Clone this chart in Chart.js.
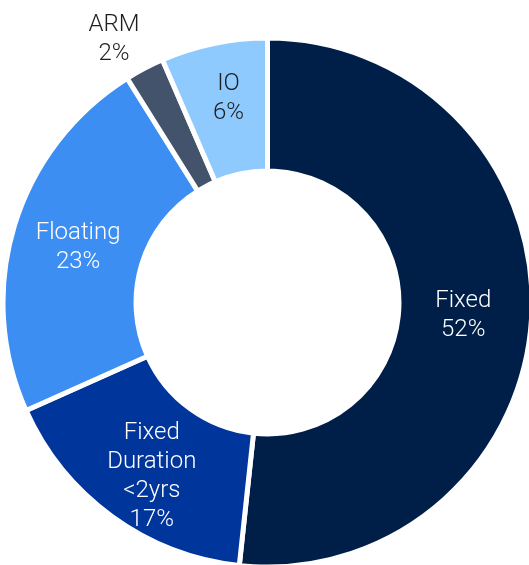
<!DOCTYPE html>
<html>
<head>
<meta charset="utf-8">
<script src="https://cdn.jsdelivr.net/npm/chart.js@4"></script>
<style>
  html, body { margin: 0; padding: 0; background: #fff; }
  #wrap { width: 529px; height: 565px; }
</style>
</head>
<body>
<div id="wrap"><canvas id="mix-chart"></canvas></div>
<script>
var categories = [["Fixed"], ["Fixed", "Duration", "<2yrs"], ["Floating"], ["ARM"], ["IO"]];
var shares = [51.7, 16.6, 22.8, 2.4, 6.5];   // slice sizes as measured
var shareLabels = [52, 17, 23, 2, 6];        // printed percentages
var sliceColors = ["#001f48", "#00359c", "#3d8ef2", "#43536b", "#8fcaff"];
var textColors = ["#ffffff", "#ffffff", "#ffffff", "#1e1e1e", "#1e1e1e"];

// small nudges so the labels sit where the original put them
var labelRadiusShift = [-2, 9, 0, 109, 12];
var labelAngleShift = [0, -2, 0, -2.3, 1];

// draws the category + percent text on (or next to) each slice
var sliceLabels = {
  id: "sliceLabels",
  afterDatasetsDraw: function(chart) {
    var ctx = chart.ctx;
    var arcs = chart.getDatasetMeta(0).data;
    ctx.save();
    ctx.font = "300 24px Roboto";
    ctx.textAlign = "center";
    ctx.textBaseline = "middle";
    arcs.forEach(function(arc, i) {
      var p = arc.getProps(["x", "y", "startAngle", "endAngle", "innerRadius", "outerRadius"], true);
      var mid = (p.startAngle + p.endAngle) / 2 + labelAngleShift[i] * Math.PI / 180;
      var r = (p.innerRadius + p.outerRadius) / 2 + labelRadiusShift[i];
      var lines = categories[i].concat([shareLabels[i] + "%"]);
      var lh = 29.2;
      var cx = p.x + Math.cos(mid) * r;
      var cy = p.y + Math.sin(mid) * r - (lines.length - 1) * lh / 2 + 2.5;
      ctx.fillStyle = textColors[i];
      lines.forEach(function(t, j) {
        ctx.fillText(t, cx, cy + j * lh);
      });
    });
    ctx.restore();
  }
};

window.onload = function() {
  new Chart(document.getElementById("mix-chart"), {
    type: "doughnut",
    data: {
      labels: categories.map(function(c) { return c.join(" "); }),
      datasets: [{
        data: shares,
        backgroundColor: sliceColors,
        borderColor: "#ffffff",
        borderWidth: 5
      }]
    },
    options: {
      responsive: true,
      maintainAspectRatio: false,
      animation: false,
      radius: 264.5,
      cutout: "49.7%",
      layout: { padding: { left: 6, right: 0, top: 40, bottom: 0 } },
      plugins: {
        legend: { display: false },
        tooltip: { enabled: false }
      }
    },
    plugins: [sliceLabels]
  });
};
</script>
</body>
</html>
